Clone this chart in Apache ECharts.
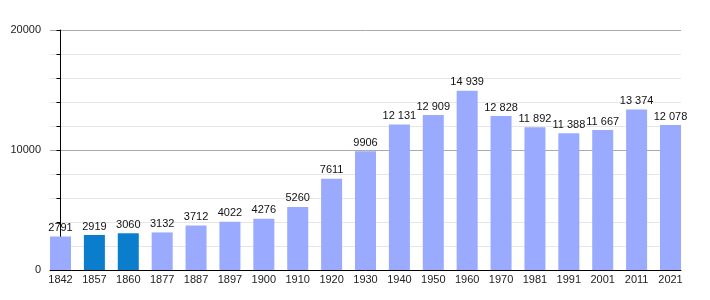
<html lang="en">
<head>
<meta charset="UTF-8" />
<script src="https://cdn.jsdelivr.net/npm/echarts@6/dist/echarts.min.js"></script>
<style>
* { padding: 0; margin: 0; }
body { background: #fff; }
</style>
</head>
<body>
<div id="main" style="width:710px;height:300px"></div>
<script>
// census years and population
var years = ["1842", "1857", "1860", "1877", "1887", "1897", "1900", "1910", "1920", "1930",
	"1940", "1950", "1960", "1970", "1981", "1991", "2001", "2011", "2021"]
var population = [2791, 2919, 3060, 3132, 3712, 4022, 4276, 5260, 7611, 9906,
	12131, 12909, 14939, 12828, 11892, 11388, 11667, 13374, 12078]
// years drawn in the darker blue
var highlighted = ["1857", "1860"]
var yTicks = [0, 10000, 20000]

var barW = 21
var step = 33.9
var half = barW / 2 / step

function fmt(v) {
	if (v < 10000) return String(v)
	var s = String(v)
	return s.slice(0, s.length - 3) + " " + s.slice(s.length - 3)
}

var seriesData = []
population.forEach(function(v, i) {
	seriesData.push({
		value: [i, v],
		itemStyle: { color: highlighted.indexOf(years[i]) >= 0 ? "#0a7dcd" : "#99aaff" }
	})
})

var idx = years.map(function(y, i) { return i })

var myChart = echarts.init(document.getElementById("main"))
myChart.setOption({
	animation: false,
	textStyle: { fontFamily: "Liberation Sans" },
	grid: { left: 50, right: 29, top: 30, bottom: 30 },
	xAxis: {
		type: "value",
		min: -half,
		max: years.length - 1 + half,
		splitLine: { show: false },
		axisLine: { show: true, lineStyle: { color: "#000", width: 1 } },
		axisTick: { show: false, customValues: idx },
		axisLabel: {
			customValues: idx,
			color: "#222",
			fontSize: 11,
			margin: 4,
			formatter: function(v) { return years[Math.round(v)] }
		}
	},
	yAxis: {
		type: "value",
		min: 0,
		max: 20000,
		interval: 2000,
		axisLine: { show: true, lineStyle: { color: "#000", width: 1 } },
		axisTick: { show: true, length: 4, lineStyle: { color: "#000" } },
		axisLabel: {
			color: "#222",
			fontSize: 11,
			margin: 9,
			formatter: function(v) { return yTicks.indexOf(v) >= 0 ? String(v) : "" }
		},
		splitLine: {
			show: true,
			lineStyle: { color: ["#aaaaaa", "#e6e6e6", "#e6e6e6", "#e6e6e6", "#e6e6e6"], width: 1 }
		}
	},
	series: [{
		type: "bar",
		barWidth: barW,
		data: seriesData,
		label: {
			show: true,
			position: "top",
			distance: 3,
			color: "#111",
			fontSize: 11,
			formatter: function(p) { return fmt(p.value[1]) }
		}
	}]
})
</script>
</body>
</html>
